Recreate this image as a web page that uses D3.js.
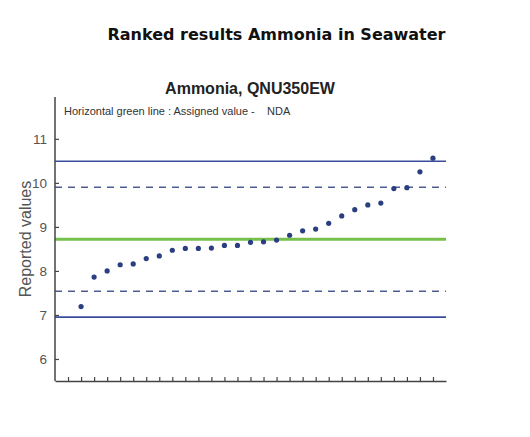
<!DOCTYPE html>
<html>
<head>
<meta charset="utf-8">
<script src="https://cdn.jsdelivr.net/npm/d3@7"></script>
<style>
  body { margin: 0; background: #fff; }
  svg { display: block; }
</style>
</head>
<body>
<svg id="chart" width="530" height="437"></svg>
<script>
// ranked reported values, lowest to highest
const ranks = d3.range(1, 29);
const reported = [
  7.19, 7.86, 8.0, 8.14, 8.16, 8.28, 8.34, 8.47, 8.51, 8.51,
  8.52, 8.58, 8.58, 8.65, 8.66, 8.70, 8.81, 8.91, 8.95, 9.08,
  9.25, 9.39, 9.50, 9.54, 9.87, 9.89, 10.25, 10.56
];
const assignedValue = 8.72;
const limitLines = [
  { value: 10.49, kind: "solid" },
  { value: 9.9, kind: "dashed" },
  { value: 7.54, kind: "dashed" },
  { value: 6.95, kind: "solid" }
];
const yTicks = [6, 7, 8, 9, 10, 11];
const xTicks = d3.range(0, 29);

const svg = d3.select("#chart");
const plotLeft = 55, plotRight = 446, plotTop = 97, plotBottom = 381;

const x = d3.scaleLinear().domain([-1, 29]).range([plotLeft, plotRight]);
const y = d3.scaleLinear().domain([5.5, 11.95]).range([plotBottom, plotTop]);

svg.append("text")
  .attr("x", 276.5).attr("y", 40)
  .attr("text-anchor", "middle")
  .attr("font-family", "DejaVu Sans")
  .attr("font-weight", "bold")
  .attr("font-size", 16)
  .attr("fill", "#111")
  .text("Ranked results Ammonia in Seawater");

svg.append("text")
  .attr("x", 250).attr("y", 94)
  .attr("text-anchor", "middle")
  .attr("font-family", "Liberation Sans, Arial")
  .attr("font-weight", "bold")
  .attr("font-size", 16)
  .attr("fill", "#222")
  .text("Ammonia, QNU350EW");

svg.append("text")
  .attr("x", 64).attr("y", 115)
  .attr("font-family", "Liberation Sans, Arial")
  .attr("font-size", 11)
  .attr("fill", "#333")
  .style("white-space", "pre")
  .text("Horizontal green line : Assigned value -    NDA");

// reference lines
const lines = svg.append("g");
lines.selectAll("line.limit")
  .data(limitLines)
  .join("line")
  .attr("class", "limit")
  .attr("x1", plotLeft).attr("x2", plotRight)
  .attr("y1", d => y(d.value)).attr("y2", d => y(d.value))
  .attr("stroke", d => d.kind === "solid" ? "#3a4c9c" : "#4f5c92")
  .attr("stroke-width", d => d.kind === "solid" ? 1.6 : 1.4)
  .attr("stroke-dasharray", d => d.kind === "solid" ? null : "7,6");

lines.append("line")
  .attr("x1", plotLeft).attr("x2", plotRight)
  .attr("y1", y(assignedValue)).attr("y2", y(assignedValue))
  .attr("stroke", "#76c04c")
  .attr("stroke-width", 3);

// axes
const yAxis = d3.axisLeft(y).tickValues(yTicks).tickFormat(d3.format("d"))
  .tickSizeInner(-4).tickSizeOuter(0).tickPadding(8);
const gy = svg.append("g").attr("transform", `translate(${plotLeft},0)`).call(yAxis);
gy.select(".domain").attr("d", `M0,${plotTop}V${plotBottom}`);
const xAxis = d3.axisBottom(x).tickValues(xTicks).tickSizeInner(-4).tickSizeOuter(0).tickFormat("");
const gx = svg.append("g").attr("transform", `translate(0,${plotBottom})`).call(xAxis);

[gx, gy].forEach(g => {
  g.select(".domain").attr("stroke", "#444").attr("stroke-width", 1.5);
  g.selectAll(".tick line").attr("stroke", "#444").attr("stroke-width", 1.2);
});
gy.selectAll(".tick text")
  .attr("font-family", "Liberation Sans, Arial")
  .attr("font-size", 13.5)
  .attr("fill", "#555");

svg.append("text")
  .attr("transform", "translate(25,239) rotate(-90)")
  .attr("dy", "0.35em")
  .attr("text-anchor", "middle")
  .attr("font-family", "Liberation Sans, Arial")
  .attr("font-size", 16)
  .attr("fill", "#555")
  .text("Reported values");

// points
svg.append("g").selectAll("circle")
  .data(reported)
  .join("circle")
  .attr("cx", (d, i) => x(ranks[i]))
  .attr("cy", d => y(d))
  .attr("r", 2.6)
  .attr("fill", "#2b3f80");
</script>
</body>
</html>
